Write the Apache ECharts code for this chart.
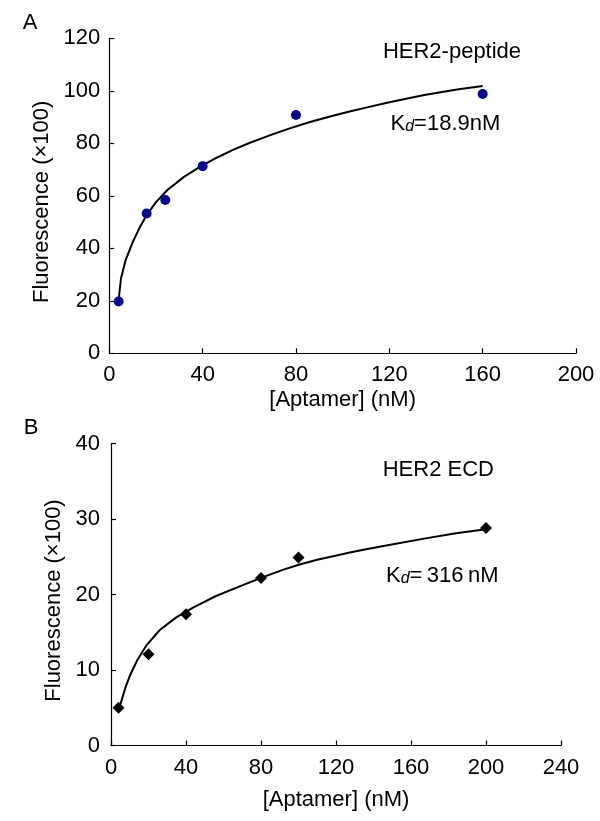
<!DOCTYPE html>
<html>
<head>
<meta charset="utf-8">
<script src="https://cdn.jsdelivr.net/npm/echarts@6/dist/echarts.min.js"></script>
<style>
html,body{margin:0;padding:0;background:#fff;}
#chart{width:600px;height:821px;}
</style>
</head>
<body>
<div id="chart"></div>
<script>
// Panel A: HER2-peptide
var aPointX = [4, 16, 24, 40, 80, 160];
var aPointY = [19.7, 53.3, 58.4, 71.3, 90.8, 98.8];
var aCurveX = [4, 5, 7, 10, 13, 16, 20, 25, 32, 39, 46, 53, 60, 69, 77, 86, 95, 103, 110, 120, 135, 149, 160];
var aCurveY = [20.3, 28.5, 35.5, 42.3, 47.9, 52.6, 57.6, 62.3, 67.2, 71.1, 74.5, 77.5, 80.1, 83.1, 85.6, 88.1, 90.3, 92.1, 93.6, 95.6, 98.4, 100.5, 101.8];
// Panel B: HER2 ECD
var bPointX = [4, 20, 40, 80, 100, 200];
var bPointY = [5.0, 12.1, 17.4, 22.2, 24.9, 28.8];
var bCurveX = [4.5, 6, 8, 10, 14, 19, 26, 35, 44, 56, 69, 80, 92, 101, 110, 119, 128, 136, 149, 167, 184, 199];
var bCurveY = [5.0, 6.3, 7.9, 9.2, 11.3, 13.3, 15.3, 17.0, 18.3, 19.8, 21.1, 22.2, 23.3, 24.0, 24.6, 25.1, 25.6, 26.0, 26.6, 27.4, 28.1, 28.6];

var xTitle = '[Aptamer] (nM)';
var yTitle = 'Fluorescence (\u00d7100)';

function pairs(xs, ys) { return xs.map(function (x, i) { return [x, ys[i]]; }); }

var FONT = "'Liberation Sans', Arial, sans-serif";
var FS = 22;

function xAxisCfg(idx, max, gap) {
  return {
    type: 'value', gridIndex: idx, min: 0, max: max, interval: 40,
    name: xTitle, nameLocation: 'middle', nameGap: gap,
    nameTextStyle: { fontFamily: FONT, fontSize: FS, color: '#000' },
    axisLine: { lineStyle: { color: '#000', width: 1.2 } },
    axisTick: { inside: true, length: 5, lineStyle: { color: '#000', width: 1.2 } },
    axisLabel: { fontFamily: FONT, fontSize: FS, color: '#000', margin: 11 },
    splitLine: { show: false }
  };
}
function yAxisCfg(idx, max, interval, margin) {
  return {
    type: 'value', gridIndex: idx, min: 0, max: max, interval: interval,
    name: yTitle, nameLocation: 'middle', nameGap: 37, nameRotate: 90,
    nameTextStyle: { fontFamily: FONT, fontSize: FS, color: '#000', padding: [0, 12, 0, 0] },
    axisLine: { show: true, lineStyle: { color: '#000', width: 1.2 } },
    axisTick: { show: true, inside: true, length: 5, lineStyle: { color: '#000', width: 1.2 } },
    axisLabel: { fontFamily: FONT, fontSize: FS, color: '#000', margin: margin },
    splitLine: { show: false }
  };
}

function kdText(left, top, rest) {
  return {
    type: 'text', left: left, top: top,
    style: {
      text: '{k|K}{d|d}{n|' + rest + '}',
      rich: {
        k: { fontFamily: FONT, fontSize: FS, fill: '#000' },
        d: { fontFamily: FONT, fontSize: 16, fontStyle: 'italic', fill: '#000', padding: [6, 0, 0, 0] },
        n: { fontFamily: FONT, fontSize: FS, fill: '#000' }
      }
    }
  };
}
function plainText(x, y, txt) {
  return {
    type: 'text', x: x, y: y,
    style: { text: txt, fontFamily: FONT, fontSize: FS, fill: '#000', align: 'center', verticalAlign: 'middle' }
  };
}

var chart = echarts.init(document.getElementById('chart'), null, { renderer: 'canvas' });
chart.setOption({
  backgroundColor: '#fff',
  animation: false,
  grid: [
    { left: 109.3, top: 38.3, width: 466.7, height: 315 },
    { left: 111, top: 443.5, width: 450, height: 302 }
  ],
  xAxis: [xAxisCfg(0, 200, 36), xAxisCfg(1, 240, 43)],
  yAxis: [yAxisCfg(0, 120, 20, 9), yAxisCfg(1, 40, 10, 11)],
  series: [
    { type: 'line', xAxisIndex: 0, yAxisIndex: 0, data: pairs(aCurveX, aCurveY), showSymbol: false,
      smooth: false,
      lineStyle: { color: '#000', width: 2, join: 'round' }, z: 2 },
    { type: 'scatter', xAxisIndex: 0, yAxisIndex: 0, data: pairs(aPointX, aPointY), symbol: 'circle', symbolSize: 10,
      itemStyle: { color: '#0a0a88', opacity: 1 }, z: 3 },
    { type: 'line', xAxisIndex: 1, yAxisIndex: 1, data: pairs(bCurveX, bCurveY), showSymbol: false,
      smooth: false,
      lineStyle: { color: '#000', width: 2, join: 'round' }, z: 2 },
    { type: 'scatter', xAxisIndex: 1, yAxisIndex: 1, data: pairs(bPointX, bPointY), symbol: 'diamond', symbolSize: 12,
      itemStyle: { color: '#000', opacity: 1 }, z: 3 }
  ],
  graphic: [
    plainText(30, 22.5, 'A'),
    plainText(31, 428, 'B'),
    plainText(452, 52, 'HER2-peptide'),
    plainText(438.3, 470, 'HER2 ECD'),
    kdText(390.5, 113, '=18.9nM'),
    kdText(386, 565, '=\u2009316\u2009nM')
  ]
});
</script>
</body>
</html>
